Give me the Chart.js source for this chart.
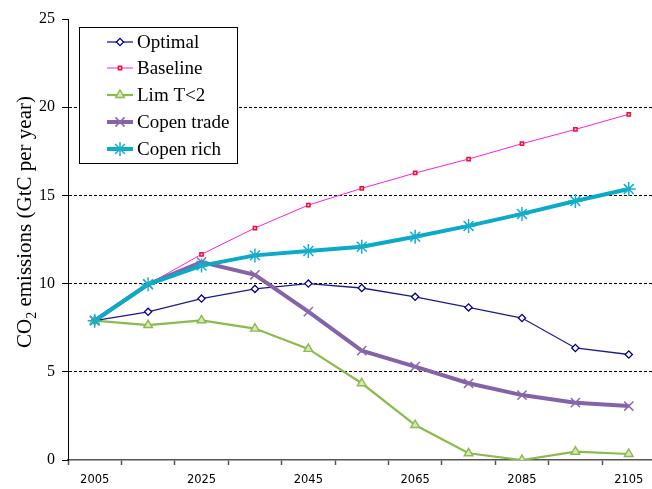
<!DOCTYPE html>
<html>
<head>
<meta charset="utf-8">
<script src="https://cdn.jsdelivr.net/npm/chart.js@4.4.0/dist/chart.umd.min.js"></script>
<style>
html,body{margin:0;padding:0;background:#fff;overflow:hidden;width:652px;height:489px;}
#wrap{position:absolute;left:0;top:0;width:664px;height:489px;}
</style>
</head>
<body>
<div id="wrap"><canvas id="c" width="664" height="489"></canvas></div>
<script>
const years = ['2005','2015','2025','2035','2045','2055','2065','2075','2085','2095','2105'];
const optimal    = [7.9, 8.4, 9.15, 9.7, 10.0, 9.75, 9.25, 8.65, 8.05, 6.35, 5.98];
const baseline   = [7.9, 9.96, 11.66, 13.15, 14.45, 15.4, 16.27, 17.06, 17.93, 18.74, 19.6];
const limT2      = [7.9, 7.65, 7.92, 7.45, 6.3, 4.35, 1.98, 0.38, 0.0, 0.47, 0.34];
const copenTrade = [7.9, 9.96, 11.22, 10.5, 8.41, 6.2, 5.29, 4.35, 3.68, 3.25, 3.06];
const copenRich  = [7.9, 9.96, 11.02, 11.6, 11.85, 12.09, 12.66, 13.27, 13.95, 14.68, 15.36];
const seriesNames = ['Optimal','Baseline','Lim T<2','Copen trade','Copen rich'];
const yTicks = [0,5,10,15,20,25];

const SERIF = '"Liberation Serif", "DejaVu Serif", serif';

const datasets = [
  {label: seriesNames[0], data: optimal, borderColor:'#1C1C8C', backgroundColor:'#ffffff', borderWidth:1.3,
   pointStyle:'rectRot', pointRadius:3.6, pointBorderColor:'#00008B', pointBackgroundColor:'#ffffff', pointBorderWidth:1.3, order:5},
  {label: seriesNames[1], data: baseline, borderColor:'#FF1EE6', backgroundColor:'#ffffff', borderWidth:1,
   pointStyle:'rect', pointRadius:2.3, pointBorderColor:'#F01030', pointBackgroundColor:'#ffd0d8', pointBorderWidth:1.5, order:4},
  {label: seriesNames[2], data: limT2, borderColor:'#8BBB4C', backgroundColor:'#D7E8BC', borderWidth:2.2,
   pointStyle:'triangle', pointRadius:5, pointBorderColor:'#8BBB4C', pointBackgroundColor:'#D7E8BC', pointBorderWidth:1.4, order:3},
  {label: seriesNames[3], data: copenTrade, borderColor:'#8563A8', backgroundColor:'#8563A8', borderWidth:4,
   pointStyle:'crossRot', pointRadius:6.5, pointBorderColor:'#8A69AC', pointBackgroundColor:'#8A69AC', pointBorderWidth:1.5, order:2},
  {label: seriesNames[4], data: copenRich, borderColor:'#0AAAC8', backgroundColor:'#0AAAC8', borderWidth:4,
   pointStyle:'star', pointRadius:7, pointBorderColor:'#18AECB', pointBackgroundColor:'#18AECB', pointBorderWidth:1.5, order:1}
];
datasets.forEach(d => { d.tension = 0; d.fill = false; d.pointHoverRadius = d.pointRadius; });

const titlePlugin = {
  id: 'yTitle',
  afterDraw(chart) {
    const ctx = chart.ctx;
    ctx.save();
    ctx.translate(24, 222);
    ctx.rotate(-Math.PI/2);
    ctx.fillStyle = '#000';
    ctx.textBaseline = 'alphabetic';
    const big = '21px ' + SERIF, small = '14px ' + SERIF;
    const parts = [['CO', big, 0], ['2', small, 5], [' emissions (GtC per year)', big, 0]];
    let total = 0;
    parts.forEach(p => { ctx.font = p[1]; total += ctx.measureText(p[0]).width; });
    let x = -total/2;
    parts.forEach(p => { ctx.font = p[1]; ctx.fillText(p[0], x, 7 + p[2]); x += ctx.measureText(p[0]).width; });
    ctx.restore();
  }
};

const legendPlugin = {
  id: 'boxLegend',
  afterDraw(chart) {
    const ctx = chart.ctx;
    ctx.save();
    const bx = 79.5, by = 27.5, bw = 158, bh = 136;
    ctx.fillStyle = '#fff';
    ctx.fillRect(bx, by, bw, bh);
    ctx.strokeStyle = '#000';
    ctx.lineWidth = 1;
    ctx.setLineDash([]);
    ctx.strokeRect(bx, by, bw, bh);
    const rows = [42, 68, 95, 122, 149];
    chart.data.datasets.forEach((ds, i) => {
      const y = rows[i];
      ctx.strokeStyle = ds.borderColor;
      ctx.lineWidth = ds.borderWidth;
      ctx.beginPath(); ctx.moveTo(107, y); ctx.lineTo(133, y); ctx.stroke();
      if (Chart.helpers && Chart.helpers.drawPoint) {
        ctx.strokeStyle = ds.pointBorderColor;
        ctx.fillStyle = ds.pointBackgroundColor;
        ctx.lineWidth = ds.pointBorderWidth;
        Chart.helpers.drawPoint(ctx, {pointStyle: ds.pointStyle, radius: ds.pointRadius, rotation: 0, borderWidth: ds.pointBorderWidth}, 120, y);
      }
      ctx.fillStyle = '#000';
      ctx.font = '19px ' + SERIF;
      ctx.textBaseline = 'middle';
      ctx.textAlign = 'left';
      ctx.fillText(ds.label, 137, y + 1);
    });
    ctx.restore();
  }
};

new Chart(document.getElementById('c'), {
  type: 'line',
  data: { labels: years, datasets: datasets },
  plugins: [titlePlugin, legendPlugin],
  options: {
    responsive: false,
    animation: false,
    devicePixelRatio: 1,
    layout: { padding: { left: 0, right: 2, top: 19, bottom: 0 } },
    plugins: { legend: { display: false }, tooltip: { enabled: false }, title: { display: false } },
    scales: {
      x: {
        type: 'category',
        offset: true,
        grid: { display: true, drawOnChartArea: false, drawTicks: true, tickLength: 5, offset: true, tickColor: '#555', tickWidth: 1.5 },
        border: { display: true, color: '#555', width: 1.5 },
        ticks: {
          autoSkip: false, maxRotation: 0, padding: 8, color: '#000',
          font: { family: '"DejaVu Sans", sans-serif', size: 11.5 },
          callback: function(v, i) { return i % 2 === 0 ? this.getLabelForValue(v) : ''; }
        },
        afterFit(s) { s.height = 29; }
      },
      y: {
        min: 0, max: 25,
        afterBuildTicks(s) { s.ticks = yTicks.map(v => ({ value: v })); },
        grid: {
          drawTicks: true, tickLength: 6,
          color: ctx => (ctx.tick && (ctx.tick.value === 0 || ctx.tick.value === 25)) ? 'rgba(0,0,0,0)' : '#000',
          tickColor: '#000',
          lineWidth: 1
        },
        border: { display: true, color: '#000', width: 1, dash: [3, 2] },
        ticks: { padding: 7, color: '#000', font: { family: SERIF, size: 16 } },
        afterFit(s) { s.width = 68; }
      }
    }
  }
});
</script>
</body>
</html>
